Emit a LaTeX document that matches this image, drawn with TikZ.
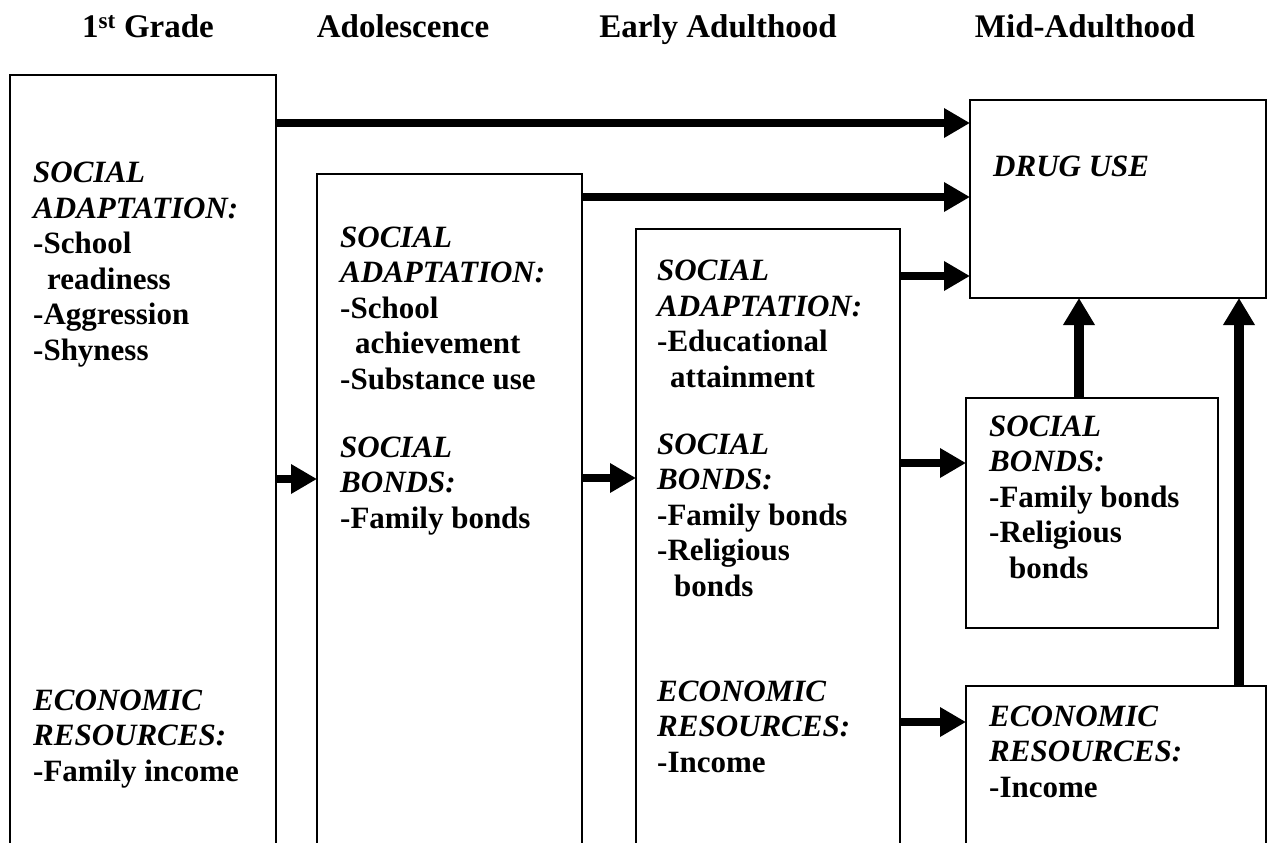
\documentclass[tikz,border=0pt]{standalone}
\usepackage{fontspec}
\setmainfont{Liberation Serif}
\usetikzlibrary{arrows.meta}
\begin{document}
\begin{tikzpicture}[x=1pt,y=-1pt,
  stage/.style={draw, line width=2pt, anchor=north west, inner sep=0pt, outer sep=0pt},
  lbl/.style={anchor=base west, align=left, inner sep=0pt, font=\fontsize{31pt}{35.5pt}\selectfont\bfseries},
  hdr/.style={anchor=base, inner sep=0pt, font=\fontsize{33pt}{38pt}\selectfont\bfseries},
  arr/.style={line width=8pt, -{Triangle[length=26pt,width=28pt]}},
  varr/.style={line width=10pt, -{Triangle[length=27pt,width=30pt]}}]
\useasboundingbox (0,0) rectangle (1272,843);
\clip (0,0) rectangle (1272,843);
% headings
\node[hdr] (h1) at (148,38) {1\textsuperscript{st} Grade};
\node[hdr] (h2) at (403,38) {Adolescence};
\node[hdr] (h3) at (718,38) {Early Adulthood};
\node[hdr] (h4) at (1085,38) {Mid-Adulthood};
% boxes
\node[stage, minimum width=266pt, minimum height=800pt] (g1) at (10,75) {};
\node[stage, minimum width=265pt, minimum height=700pt] (g2) at (317,174) {};
\node[stage, minimum width=264pt, minimum height=650pt] (g3) at (636,229) {};
\node[stage, minimum width=296pt, minimum height=198pt] (drug) at (970,100) {};
\node[stage, minimum width=252pt, minimum height=230pt] (sb) at (966,398) {};
\node[stage, minimum width=300pt, minimum height=200pt] (ec) at (966,686) {};
% texts (anchored at the baseline of their last line)
\node[lbl] (t1a) at (33,360) {\itshape SOCIAL\\\itshape ADAPTATION:\\-School\\\hspace{14pt}readiness\\-Aggression\\-Shyness};
\node[lbl] (t1b) at (33,781) {\itshape ECONOMIC\\\itshape RESOURCES:\\-Family income};
\node[lbl] (t2a) at (340,389) {\itshape SOCIAL\\\itshape ADAPTATION:\\-School\\\hspace{15pt}achievement\\-Substance use};
\node[lbl] (t2b) at (340,528) {\itshape SOCIAL\\\itshape BONDS:\\-Family bonds};
\node[lbl] (t3a) at (657,387) {\itshape SOCIAL\\\itshape ADAPTATION:\\-Educational\\\hspace{13pt}attainment};
\node[lbl] (t3b) at (657,596) {\itshape SOCIAL\\\itshape BONDS:\\-Family bonds\\-Religious\\\hspace{17pt}bonds};
\node[lbl] (t3c) at (657,772) {\itshape ECONOMIC\\\itshape RESOURCES:\\-Income};
\node[lbl] (t4a) at (993,176) {\itshape DRUG USE};
\node[lbl] (t4b) at (989,578) {\itshape SOCIAL\\\itshape BONDS:\\-Family bonds\\-Religious\\\hspace{20pt}bonds};
\node[lbl] (t4c) at (989,797) {\itshape ECONOMIC\\\itshape RESOURCES:\\-Income};
% arrows
\draw[arr] (g1.east |- 0,123) -- (drug.west |- 0,123);
\draw[arr] (g2.east |- 0,197) -- (drug.west |- 0,197);
\draw[arr] (g3.east |- 0,276) -- (drug.west |- 0,276);
\draw[arr] (g1.east |- 0,479) -- (g2.west |- 0,479);
\draw[arr] (g2.east |- 0,478) -- (g3.west |- 0,478);
\draw[arr] (g3.east |- 0,463) -- (sb.west |- 0,463);
\draw[arr] (g3.east |- 0,722) -- (ec.west |- 0,722);
\draw[varr] (sb.north -| 1079,0) -- (drug.south -| 1079,0);
\draw[varr] (ec.north -| 1239,0) -- (drug.south -| 1239,0);
\end{tikzpicture}
\end{document}
